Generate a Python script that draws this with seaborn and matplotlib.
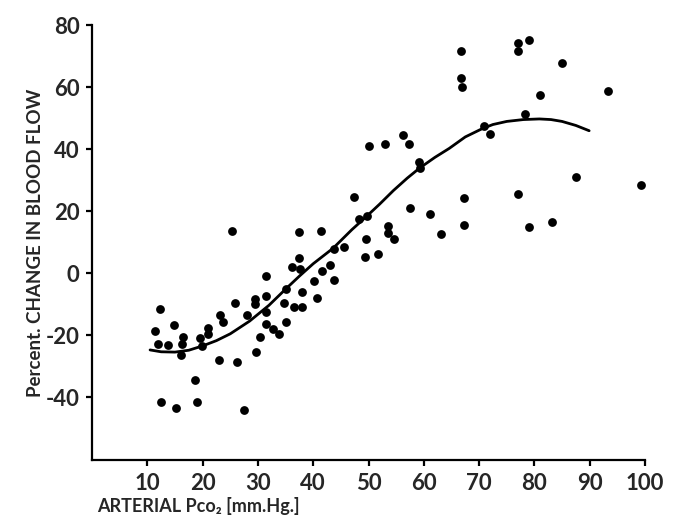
import matplotlib
matplotlib.use("Agg")
import matplotlib.pyplot as plt
import seaborn as sns
import pandas as pd

# Scatter data: arterial Pco2 (mm Hg) vs percent change in blood flow
pco2 = [12.3, 11.4, 12.0, 13.7, 14.8, 16.5, 16.2, 16.1, 19.6, 19.9, 20.9, 20.9,
        23.1, 23.7, 25.9, 28.0, 29.5, 29.5, 31.5, 31.5, 31.5, 31.4, 30.3, 29.7,
        26.2, 22.9, 18.6, 18.9, 12.5, 15.2, 27.4, 25.3,
        56.2, 57.4, 50.1, 53.0, 59.1, 59.3, 47.3, 57.5, 61.1, 63.2, 48.3, 49.8,
        53.6, 53.6, 54.7, 49.5, 51.8, 49.4, 45.6, 43.7, 43.0, 41.6, 43.8, 40.2,
        40.6, 41.5, 37.5, 37.5, 36.2, 37.7, 37.9, 38.0, 36.5, 35.0, 34.8, 35.0,
        33.9, 32.7,
        66.7, 66.8, 66.9, 77.1, 77.0, 79.0, 85.0, 81.1, 93.3, 78.3, 70.8, 72.0,
        87.5, 99.2, 67.3, 77.1, 67.3, 79.1, 83.1]
flow = [-11.6, -18.7, -23.0, -23.1, -16.6, -20.5, -22.9, -26.3, -21.1, -23.5, -17.8, -19.8,
        -13.6, -15.8, -9.6, -13.6, -8.3, -10.0, -0.9, -7.4, -12.5, -16.5, -20.6, -25.5,
        -28.6, -28.2, -34.4, -41.5, -41.7, -43.4, -44.2, 13.5,
        44.4, 41.6, 40.9, 41.5, 35.7, 33.8, 24.4, 20.9, 19.0, 12.5, 17.3, 18.5,
        15.2, 12.8, 10.9, 11.0, 6.3, 5.3, 8.5, 7.8, 2.7, 0.6, -2.4, -2.5,
        -8.0, 13.5, 13.1, 4.7, 2.0, 1.3, -6.0, -10.9, -11.0, -5.1, -9.6, -15.7,
        -19.8, -18.2,
        71.7, 62.9, 60.1, 74.1, 71.6, 75.3, 67.8, 57.4, 58.7, 51.4, 47.4, 44.7,
        30.9, 28.4, 24.2, 25.5, 15.6, 14.7, 16.5]

# Hand-drawn fitted curve
curve_x = [10.5, 12.5, 15.0, 17.5, 20.0, 22.5, 25.0, 28.5, 32.0, 35.0, 37.5, 40.0,
           43.6, 47.0, 49.6, 52.0, 54.5, 57.0, 59.2, 62.0, 64.6, 67.5, 70.6, 72.5,
           75.0, 78.0, 80.9, 83.0, 85.0, 87.5, 89.9]
curve_y = [-24.8, -25.4, -25.5, -24.9, -23.5, -21.8, -19.6, -15.5, -10.4, -5.2, -1.0, 3.0,
           8.0, 14.0, 18.2, 22.2, 26.6, 30.6, 33.8, 37.3, 40.2, 43.9, 46.6, 47.9,
           48.9, 49.5, 49.7, 49.5, 48.9, 47.6, 45.9]

x_ticks = [10, 20, 30, 40, 50, 60, 70, 80, 90, 100]
y_ticks = [-40, -20, 0, 20, 40, 60, 80]

sns.set_theme(style="ticks")
plt.rcParams["font.family"] = ["Lato", "DejaVu Sans"]

pts = pd.DataFrame({"pco2": pco2, "flow": flow})
crv = pd.DataFrame({"x": curve_x, "y": curve_y})

fig = plt.figure(figsize=(6.86, 5.28), dpi=100)
ax = fig.add_axes([92 / 686, 68 / 528, (645 - 92) / 686, (460 - 25) / 528])

sns.scatterplot(data=pts, x="pco2", y="flow", ax=ax, color="black", s=40,
                edgecolor="black", linewidth=0, zorder=3)
sns.lineplot(data=crv, x="x", y="y", ax=ax, color="black", linewidth=2.0,
             sort=False, estimator=None, zorder=2)

ax.set_xlim(0, 100)
ax.set_ylim(-60.3, 80)
ax.set_xticks(x_ticks)
ax.set_yticks(y_ticks)
ax.set_xticklabels([str(v) for v in x_ticks])
ax.set_yticklabels([str(v) for v in y_ticks])
ax.tick_params(axis="both", direction="out", length=4, width=1.6, color="black",
               labelsize=16, pad=5)
for lab in ax.get_xticklabels() + ax.get_yticklabels():
    lab.set_fontweight("bold")
for side in ["left", "bottom"]:
    ax.spines[side].set_linewidth(1.6)
    ax.spines[side].set_color("black")
sns.despine(ax=ax)
ax.set_xlabel("")
ax.set_ylabel("")
ax.grid(False)

fig.text(36 / 686, 1 - 243 / 528, "Percent. CHANGE IN BLOOD FLOW", rotation=90,
         ha="center", va="center", fontsize=13.5, fontweight="bold")
fig.text(97 / 686, 1 - 506 / 528, "ARTERIAL Pco\u2082 [mm.Hg.]",
         ha="left", va="center", fontsize=13, fontweight="bold")

fig.savefig("out.png", dpi=100, facecolor="white")
